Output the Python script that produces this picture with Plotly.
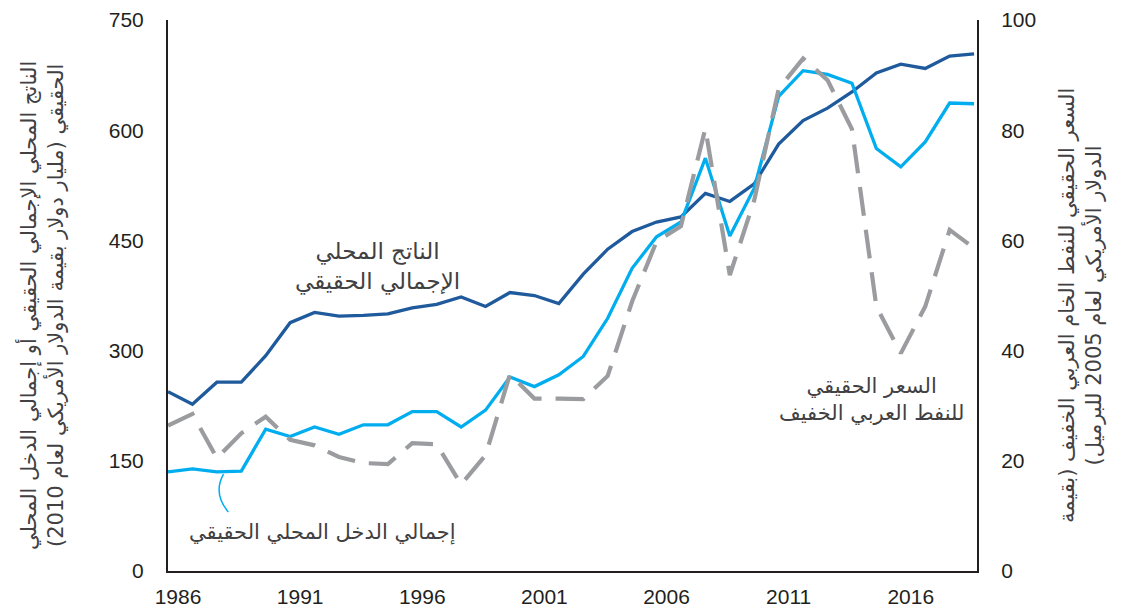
import plotly.graph_objects as go

years = list(range(1986, 2020))
gdp = [244, 227, 257, 257, 293, 338, 352, 347, 348, 350, 358, 363, 373, 360, 379, 375, 364,
       404, 438, 462, 475, 482, 514, 503, 527, 581, 613, 630, 652, 678, 690, 684, 701, 704]
gdi = [135, 139, 135, 136, 193, 183, 196, 186, 199, 199, 217, 217, 196, 219, 264, 251, 267,
       292, 344, 412, 455, 475, 562, 456, 521, 646, 681, 676, 664, 575, 550, 584, 637, 636]
oil = [26.4, 28.5, 20.5, 25.0, 28.0, 23.8, 22.8, 20.7, 19.6, 19.4, 23.2, 23.0, 15.7, 21.0,
       35.7, 31.3, 31.3, 31.2, 35.4, 48.9, 59.8, 62.6, 80.3, 53.7, 67.3, 87.5, 93.0, 89.1,
       80.2, 48.0, 39.5, 48.0, 61.9, 58.6]

x_ticks = [1986, 1991, 1996, 2001, 2006, 2011, 2016]
left_ticks = [0, 150, 300, 450, 600, 750]
right_ticks = [0, 20, 40, 60, 80, 100]

RLM = "\u200f"
def rtl(s):
    return "<br>".join(RLM + line + RLM for line in s.split("\n"))

left_title = "الناتج المحلي الإجمالي الحقيقي أو إجمالي الدخل المحلي\nالحقيقي (مليار دولار بقيمة الدولار الأمريكي لعام 2010)"
right_title = "السعر الحقيقي للنفط الخام العربي الخفيف (بقيمة\nالدولار الأمريكي لعام 2005 للبرميل)"
lbl_gdp = "الناتج المحلي\nالإجمالي الحقيقي"
lbl_gdi = "إجمالي الدخل المحلي الحقيقي"
lbl_oil = "السعر الحقيقي\nللنفط العربي الخفيف"

DARK = "#1f5a9c"
LIGHT = "#00aeef"
GRAY = "#9b9c9f"
AX = "#231f20"
TXT = "#414042"
NUMFONT = "Liberation Sans, Arial, Helvetica, sans-serif"
ARFONT = "DejaVu Sans, sans-serif"

fig = go.Figure()
fig.add_trace(go.Scatter(x=years, y=gdp, mode="lines", line=dict(color=DARK, width=3.3),
                         hoverinfo="skip", showlegend=False))
fig.add_trace(go.Scatter(x=years, y=gdi, mode="lines", line=dict(color=LIGHT, width=3.3),
                         hoverinfo="skip", showlegend=False))
fig.add_trace(go.Scatter(x=years, y=oil, mode="lines", yaxis="y2",
                         line=dict(color=GRAY, width=4.2, dash="29px,14px"),
                         hoverinfo="skip", showlegend=False))

fig.update_layout(
    template="none",
    width=1124, height=610,
    margin=dict(l=168, r=147, t=20, b=39),
    paper_bgcolor="white", plot_bgcolor="white",
    font=dict(family=NUMFONT, color=AX, size=21),
    xaxis=dict(range=[1986, 2019.12], tickvals=x_ticks, ticktext=[str(v) for v in x_ticks],
               showgrid=False, zeroline=False, showline=True, linecolor=AX, linewidth=2,
               ticks="", ticklabelshift=10, ticklabelstandoff=6, automargin=False,
               tickfont=dict(family=NUMFONT, size=21, color=AX)),
    yaxis=dict(range=[0, 750], tickvals=left_ticks, showgrid=False, zeroline=False,
               showline=True, linecolor=AX, linewidth=2, ticks="", ticklabelstandoff=18,
               automargin=False, tickfont=dict(family=NUMFONT, size=21, color=AX)),
    yaxis2=dict(range=[0, 100], tickvals=right_ticks, overlaying="y", side="right",
                showgrid=False, zeroline=False, showline=True, linecolor=AX, linewidth=2,
                ticks="", ticklabelstandoff=18, automargin=False,
                tickfont=dict(family=NUMFONT, size=21, color=AX)),
)

annos = [
    dict(text=rtl(left_title), xref="paper", yref="paper", x=(41 - 168) / 809, y=(571 - 306) / 551,
         xanchor="center", yanchor="middle", textangle=-90, showarrow=False,
         font=dict(family=ARFONT, size=21, color=TXT)),
    dict(text=rtl(right_title), xref="paper", yref="paper", x=(1080 - 168) / 809, y=(571 - 306) / 551,
         xanchor="center", yanchor="middle", textangle=-90, showarrow=False,
         font=dict(family=ARFONT, size=21, color=TXT)),
    dict(text=rtl(lbl_gdp), xref="x", yref="y", x=1994.56, y=414, xanchor="center", yanchor="middle",
         showarrow=False, font=dict(family=ARFONT, size=23, color=TXT)),
    dict(text=rtl(lbl_gdi), xref="x", yref="y", x=1992.31, y=52, xanchor="center", yanchor="middle",
         showarrow=False, font=dict(family=ARFONT, size=21, color=TXT)),
    dict(text=rtl(lbl_oil), xref="x", yref="y", x=2014.79, y=234, xanchor="center", yanchor="middle",
         showarrow=False, font=dict(family=ARFONT, size=21, color=TXT)),
]
fig.update_layout(annotations=annos)

fig.add_shape(type="path", xref="x", yref="y",
              path="M 1988.469,80.4 Q 1987.83,106.0 1988.273,131.9",
              line=dict(color=LIGHT, width=1.5))

fig.write_html("out.html", config={"displayModeBar": False},
               post_script="document.body.style.margin='0';document.body.style.overflow='hidden';")
